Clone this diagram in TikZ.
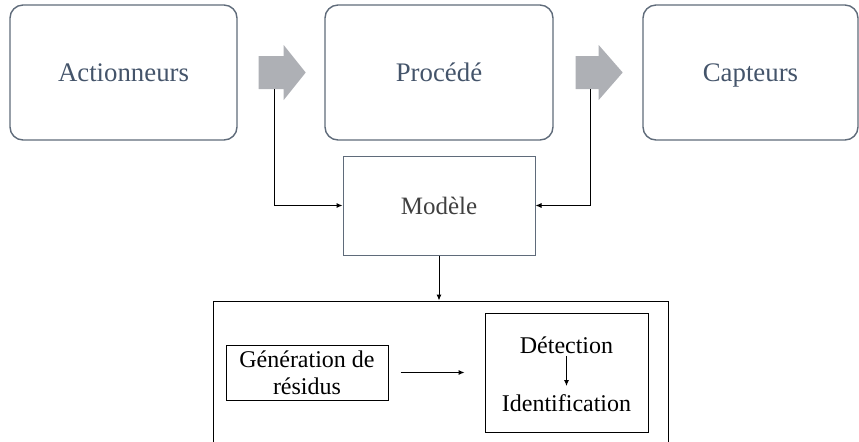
\documentclass[tikz,border=0pt]{standalone}
\usepackage{fontspec}
\setmainfont{Liberation Serif}
\usetikzlibrary{arrows.meta}
\definecolor{slate}{HTML}{44546A}
\definecolor{edgegray}{HTML}{5F6B7A}
\definecolor{blockgray}{HTML}{AEB0B5}
\definecolor{inkgray}{HTML}{404040}

\begin{document}
\begin{tikzpicture}[x = {(0.5pt, 0pt)}, y = {(0pt, -0.5pt)},
  stage/.style = {draw=edgegray, line width=0.7pt, rounded corners=6.5pt,
    minimum height=67.5pt, inner sep=0pt, text=slate, text height=9pt,
    text depth=0pt, font=\fontsize{13.4}{16}\selectfont},
  flow/.style = {fill=blockgray, draw=none},
  box/.style = {draw, line width=0.5pt, inner sep=0pt, align=center,
    font=\fontsize{12}{13.5}\selectfont},
  link/.style = {line width=0.5pt, -{Latex[length=3pt, width=2.6pt]}}]
  \clip (0, 0) rectangle (859, 441);

  \node[stage, minimum width=113.5pt] (act) at (123.5, 72.5) {Actionneurs};
  \node[stage, minimum width=114pt] (proc) at (439, 72.5) {Procédé};
  \node[stage, minimum width=107.5pt] (capt) at (750.5, 72.5) {Capteurs};

  % block arrows between the stages
  \path[flow] ([xshift=10.5pt]act.east) ++(0, -16.5) -- ++(25, 0) -- ++(0, -11)
    -- ++(22, 27.5) -- ++(-22, 27.5) -- ++(0, -11) -- ++(-25, 0) -- cycle;
  \path[flow] ([xshift=11pt]proc.east) ++(0, -16.5) -- ++(23, 0) -- ++(0, -11)
    -- ++(24, 27.5) -- ++(-24, 27.5) -- ++(0, -11) -- ++(-23, 0) -- cycle;

  \node[box, draw=edgegray, text=inkgray, minimum width=96pt, minimum height=49.5pt,
    font=\fontsize{12.5}{15}\selectfont] (modele) at (439, 205.5) {Modèle};

  \coordinate (tapA) at (274, 89);
  \coordinate (tapB) at (590, 89);
  \draw[link] (tapA) |- (modele.west);
  \draw[link] (tapB) |- (modele.east);

  \node[box, minimum width=227.5pt, minimum height=79.5pt] (fdi) at (440.5, 380.5) {};
  \draw[link] (modele.south) -- (modele.south |- fdi.north);

  \node[box, minimum width=81pt, minimum height=27.5pt] (gen) at (307, 372.5)
    {Génération de\\résidus};
  \node[box, minimum width=81.5pt, minimum height=59.5pt] (det) at (566.5, 372.5) {};
  \draw[link] ([xshift=6pt]gen.east) -- ([xshift=-10pt]det.west);

  \node[font=\fontsize{12}{13.5}\selectfont, inner sep=1pt] (dtxt) at (566.5, 345) {Détection};
  \node[font=\fontsize{12}{13.5}\selectfont, inner sep=1pt] (itxt) at (566.5, 403) {Identification};
  \draw[link, shorten >=3pt] (dtxt.south) -- (itxt.north);
\end{tikzpicture}
\end{document}
